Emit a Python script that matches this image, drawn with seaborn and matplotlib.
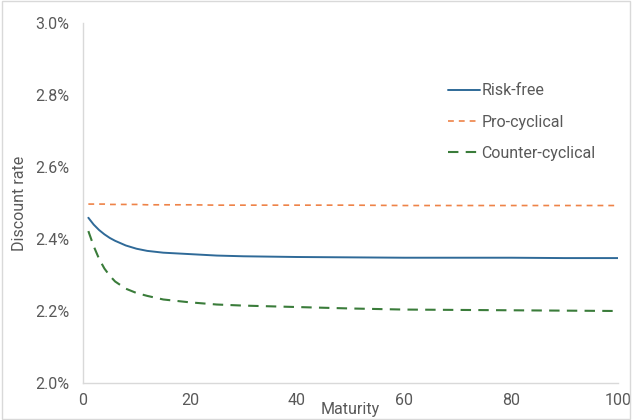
import numpy as np
import pandas as pd
import matplotlib
matplotlib.use("Agg")
import matplotlib.pyplot as plt
import seaborn as sns
from matplotlib.ticker import FuncFormatter

maturity = [1, 2, 3, 4, 5, 6, 8, 10, 12, 15, 20, 25, 30, 40, 50, 60, 70, 80, 90, 100]
risk_free = [2.459, 2.440, 2.425, 2.413, 2.403, 2.395, 2.382, 2.373, 2.367, 2.362,
             2.358, 2.354, 2.352, 2.350, 2.349, 2.348, 2.348, 2.348, 2.347, 2.347]
pro_cyclical = [2.497, 2.497, 2.497, 2.497, 2.496, 2.496, 2.496, 2.496, 2.495, 2.495,
                2.495, 2.494, 2.494, 2.494, 2.494, 2.493, 2.493, 2.493, 2.493, 2.493]
counter_cyclical = [2.422, 2.380, 2.345, 2.318, 2.298, 2.282, 2.262, 2.250, 2.242, 2.232,
                    2.224, 2.218, 2.215, 2.211, 2.207, 2.204, 2.203, 2.202, 2.201, 2.200]
series_names = ["Risk-free", "Pro-cyclical", "Counter-cyclical"]
colors = ["#2F6A98", "#EE8348", "#3A7C3A"]

df = pd.DataFrame({
    "Maturity": maturity * 3,
    "rate": risk_free + pro_cyclical + counter_cyclical,
    "series": sum([[n] * len(maturity) for n in series_names], []),
})

sns.set_style("white")
plt.rcParams["font.family"] = ["Roboto", "DejaVu Sans"]

fig = plt.figure(figsize=(6.32, 4.2), dpi=100)
ax = fig.add_axes([83 / 632, 1 - 383 / 420, (618 - 83) / 632, (383 - 23) / 420])

styles = {
    "Risk-free": dict(ls="-", lw=1.4),
    "Pro-cyclical": dict(ls=(0, (3.5, 3)), lw=1.2),
    "Counter-cyclical": dict(ls=(0, (5, 3.5)), lw=1.5),
}
for name, c in zip(series_names, colors):
    sub = df[df["series"] == name]
    sns.lineplot(data=sub, x="Maturity", y="rate", ax=ax, color=c, label=name,
                 linestyle=styles[name]["ls"], linewidth=styles[name]["lw"])

ax.set_xlim(0, 100)
ax.set_ylim(2.0, 3.0)
ax.set_xticks([0, 20, 40, 60, 80, 100])
ax.set_yticks([2.0, 2.2, 2.4, 2.6, 2.8, 3.0])
ax.yaxis.set_major_formatter(FuncFormatter(lambda v, p: f"{v:.1f}%"))
ax.tick_params(axis="both", length=0, labelsize=11.5, labelcolor="#595959")
ax.tick_params(axis="x", pad=7)
ax.tick_params(axis="y", pad=10)

for s in ["top", "right"]:
    ax.spines[s].set_visible(False)
for s in ["left", "bottom"]:
    ax.spines[s].set_color("#D9D9D9")
    ax.spines[s].set_linewidth(1.0)

ax.set_xlabel("Maturity", fontsize=11.5, color="#595959", labelpad=-4)
ax.set_ylabel("Discount rate", fontsize=11.5, color="#595959", labelpad=6)

leg = ax.legend(loc="upper left", bbox_to_anchor=(0.655, 0.872), frameon=False,
                fontsize=11.5, handlelength=2.0, handletextpad=0.1, labelspacing=1.02,
                labelcolor="#595959")

fig.patches.append(plt.Rectangle((0.003, 0.003), 0.994, 0.994, transform=fig.transFigure,
                                 fill=False, edgecolor="#D9D9D9", linewidth=1.0))

fig.savefig("out.png", dpi=100)
